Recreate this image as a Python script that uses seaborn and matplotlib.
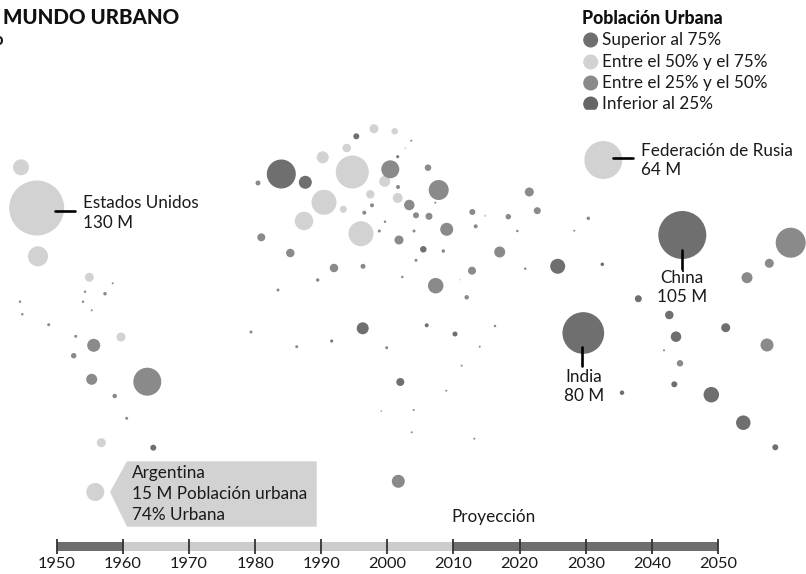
import pandas as pd
import matplotlib.pyplot as plt
from matplotlib.patches import Polygon, Rectangle
import seaborn as sns

sns.set_style("white")
plt.rcParams['font.family'] = ['Lato', 'DejaVu Sans']

# colours for urban share
cat_colors = {"alto": "#6f6f6f", "medio": "#d3d2d3", "bajo": "#8a8a8a", "minimo": "#666666"}

# bubbles: map position x, y, diameter, urban share class
x_light = [36.7, 21, 38, 89.3, 121, 101.3, 95.3, 322.7, 374, 394.7, 405.3, 346.7, 352.3, 384.7, 370.3, 397.7, 324, 343.3, 304, 485.3, 361, 460, 603.3]
y_light = [208, 167.3, 256.3, 277.3, 337, 442.7, 492, 157.3, 128.7, 131.3, 148.3, 148, 172, 181.3, 194.3, 198, 202.3, 209.3, 221, 215.7, 233.7, 279.7, 160]
d_light = [55, 16, 20, 9, 9, 9, 18, 12, 9, 6.5, 2, 8.5, 33, 11, 8.5, 10, 25, 7, 18.5, 2.5, 25, 1.5, 38]

x_mid = [390.3, 428, 438.7, 409.3, 372, 416, 429, 472.3, 508.3, 529.3, 537.3, 446.7, 475.7, 261.3, 290.3, 399, 443.3, 499.7, 334, 363, 472, 435.7, 466.7,
         93.7, 91.7, 147.3, 73.7, 398.3, 790.7, 769.3, 747, 767, 680, 258, 398, 364.3]
y_mid = [169.3, 167.7, 190, 205, 205.3, 215.3, 216.3, 212, 216.7, 192, 210.7, 229.3, 226.3, 237.3, 253, 240, 251, 252, 268, 266.3, 270.7, 285.7, 297.3,
         345.3, 379.3, 381.7, 355.7, 481.3, 242.7, 263.3, 277.7, 345, 363.3, 183, 187, 212.7]
d_mid = [18, 6.5, 20, 10.5, 4, 6, 7, 6, 5.5, 9, 7, 13, 4, 8, 8.5, 9, 3.5, 11, 8.5, 5, 8, 15.5, 4.5,
         13, 11, 28, 5.5, 13, 30, 9, 11, 13, 6.5, 5, 4, 4]

x_small = [411.3, 435.3, 385, 379.3, 414, 517.3, 416, 525.3, 402.3, 317.7, 278, 251, 495, 386.7, 479.7, 461.7, 446.3, 381.3, 413.7, 411.7, 474.3,
           112.7, 85, 105, 20, 83, 91.7, 22.3, 48.7, 75.7, 114.7, 126.7, 296.7, 588.3, 574.3, 664]
y_small = [140.7, 202.7, 221.7, 231, 231, 231, 260.3, 268.7, 277, 280, 290, 332, 326, 347.7, 346.7, 365.7, 390.7, 411, 410, 432.3, 438.7,
           283.3, 291.7, 293.7, 301.7, 301.7, 310.3, 314.3, 324.7, 336.3, 396, 418.3, 346.7, 218.3, 230.7, 350.3]
d_small = [2, 2, 2.5, 3, 3, 2.5, 3, 2.5, 2.5, 3.5, 3, 3, 2.5, 3, 2, 2, 2, 1.5, 2, 2, 2,
           2, 2.5, 3.5, 2.5, 2.5, 2, 2.5, 3, 3, 4.5, 3, 3, 3.5, 2, 2]

x_dark = [281.3, 305.3, 356.3, 397.7, 423.3, 557.7, 362.7, 426.7, 455, 331.7, 400.3, 622, 583.3, 602.3, 638.3, 682.3, 669.3, 725.7, 676, 674.3, 711.3, 743.3, 775.3, 153.3]
y_dark = [174, 182.3, 136.3, 156.7, 249.3, 266.3, 328.3, 325.3, 334, 341, 382, 392.7, 333, 264.3, 298.7, 235, 315, 327.7, 336.7, 384.3, 394.7, 422.7, 447.3, 447.7]
d_dark = [29, 13, 6, 3, 6.5, 15, 12, 4, 5, 3, 8, 4.5, 41.7, 3.5, 7, 48, 8.5, 9, 10.5, 6, 15.5, 14.5, 6, 6]

# legend
legend_labels = ["Superior al 75%", "Entre el 50% y el 75%", "Entre el 25% y el 50%", "Inferior al 25%"]
legend_cats = ["alto", "medio", "bajo", "minimo"]

# timeline
years = [1950, 1960, 1970, 1980, 1990, 2000, 2010, 2020, 2030, 2040, 2050]
periods = [(1950, 1960, "#6e6e6e"), (1960, 2010, "#cccccc"), (2010, 2050, "#6e6e6e")]

df = pd.concat([
    pd.DataFrame({"x": x_light, "y": y_light, "d": d_light, "cat": "medio"}),
    pd.DataFrame({"x": x_mid, "y": y_mid, "d": d_mid, "cat": "bajo"}),
    pd.DataFrame({"x": x_small, "y": y_small, "d": d_small, "cat": "bajo"}),
    pd.DataFrame({"x": x_dark, "y": y_dark, "d": d_dark, "cat": "alto"}),
])
# diameter in px to marker area in points^2 at 100 dpi
df["s"] = (df["d"] * 0.72) ** 2

fig = plt.figure(figsize=(8.06, 5.74), dpi=100)
ax = fig.add_axes([0, 0, 1, 1])
sns.scatterplot(data=df, x="x", y="y", hue="cat", palette=cat_colors, s=df["s"].values,
                linewidth=0, legend=False, ax=ax)
ax.set_xlim(0, 806)
ax.set_ylim(574, 0)
ax.axis("off")

ink = "#1a1a1a"
fs = 12.3
ax.text(3, 17, "MUNDO URBANO", fontsize=14.8, fontweight="black", color="#111111", va="center")
ax.text(3, 40, "o", fontsize=12, fontweight="bold", color="#111111", va="center", ha="right")

# legend block
ax.text(582, 19, "Población Urbana", fontsize=12.8, fontweight="black", color="#111111", va="center")
leg_y = [40, 62, 83, 104]
leg = pd.DataFrame({"x": [590.7] * 4, "y": leg_y, "cat": legend_cats})
sns.scatterplot(data=leg, x="x", y="y", hue="cat", palette=cat_colors, s=(15 * 0.72) ** 2,
                linewidth=0, legend=False, ax=ax)
for lab, ly in zip(legend_labels, leg_y):
    ax.text(602.5, ly, lab, fontsize=fs, color=ink, va="center")
ax.add_patch(Rectangle((578, 110), 190, 8, color="white", zorder=5))

# callouts
ax.plot([55, 75], [211, 211], color="black", lw=1.9)
ax.plot([613, 633], [158, 158], color="black", lw=1.9)
ax.plot([682, 682], [250, 269], color="black", lw=1.9)
ax.plot([581.5, 581.5], [347, 366], color="black", lw=1.9)

ax.text(83, 203.5, "Estados Unidos", fontsize=fs, color=ink, va="center")
ax.text(83, 223, "130 M", fontsize=fs, color=ink, va="center")
ax.text(641, 150.5, "Federación de Rusia", fontsize=fs, color=ink, va="center")
ax.text(641, 170, "64 M", fontsize=fs, color=ink, va="center")
ax.text(682, 278, "China", fontsize=fs, color=ink, va="center", ha="center")
ax.text(682, 297, "105 M", fontsize=fs, color=ink, va="center", ha="center")
ax.text(584, 377, "India", fontsize=fs, color=ink, va="center", ha="center")
ax.text(584, 396, "80 M", fontsize=fs, color=ink, va="center", ha="center")

# Argentina box
ax.add_patch(Polygon([(110, 492), (127, 461.3), (316.7, 461.3), (316.7, 526.7), (127, 526.7)],
                     closed=True, color="#d3d2d3", lw=0))
ax.text(132, 473, "Argentina", fontsize=fs, color=ink, va="center")
ax.text(132, 494, "15 M Población urbana", fontsize=fs, color=ink, va="center")
ax.text(132, 515, "74% Urbana", fontsize=fs, color=ink, va="center")

ax.text(451, 517, "Proyección", fontsize=fs, color=ink, va="center")

# timeline strip
tl = fig.add_axes([56.7 / 806, 1 - 551 / 574, (718 - 56.7) / 806, 9 / 574])
for start, end, col in periods:
    tl.barh(0, end - start, left=start, height=1, color=col, linewidth=0)
tl.vlines(years, -0.78, 0.78, color="#333333", lw=1.3, clip_on=False, zorder=3)
tl.set_xlim(1950, 2050)
tl.set_ylim(-0.5, 0.5)
tl.set_yticks([])
tl.set_xticks(years)
tl.set_xticklabels(years, fontsize=11.8, color=ink)
tl.tick_params(axis="x", length=0, pad=4)
sns.despine(ax=tl, left=True, right=True, top=True, bottom=True)

fig.savefig("out.png", dpi=100)
